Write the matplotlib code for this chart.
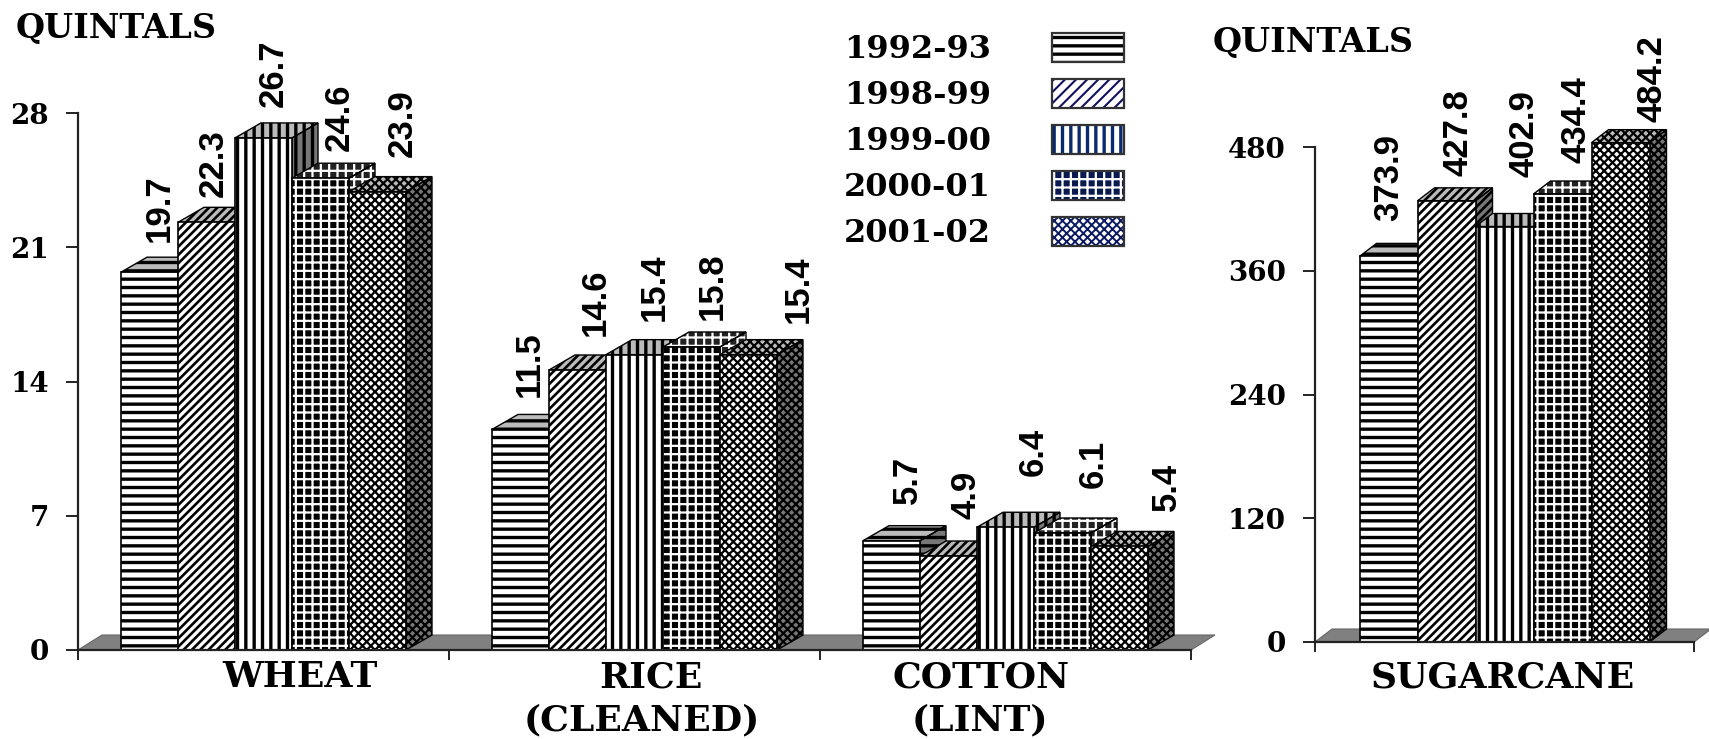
import matplotlib
matplotlib.use("Agg")
import matplotlib.pyplot as plt
from matplotlib.patches import Polygon, Rectangle

W, H = 1709, 739

years = ["1992-93", "1998-99", "1999-00", "2000-01", "2001-02"]
wheat = [19.7, 22.3, 26.7, 24.6, 23.9]
rice = [11.5, 14.6, 15.4, 15.8, 15.4]
cotton = [5.7, 4.9, 6.4, 6.1, 5.4]
sugarcane = [373.9, 427.8, 402.9, 434.4, 484.2]
left_ticks = [0, 7, 14, 21, 28]
right_ticks = [0, 120, 240, 360, 480]

# offset of each value label from the front top corner of its bar, pixels
left_label_dx = [[10, 7, 10, 19, 25], [9, 18, 20, 21, 50], [16, 18, 28, 31, 47]]
left_label_dy = [[30, 25, 31, 27, 35], [32, 34, 34, 27, 32], [37, 37, 51, 45, 35]]
right_label_dx = [0, 12, 20, 13, 32]
right_label_dy = [35, 25, 50, 31, 21]

# hatch, face colour, hatch colour, hatch width
bar_styles = [
    ("--", "white", "black", 2.4),
    ("////", "white", "black", 1.9),
    ("||", "white", "black", 2.4),
    ("++", "black", "white", 1.6),
    ("xxxx", "white", "black", 1.6),
]
key_styles = [
    ("--", "white", "black", 2.4),
    ("///", "white", "#101060", 1.5),
    ("||", "white", "#0a2a70", 2.4),
    ("++", "#0a1a50", "white", 1.6),
    ("xxxx", "white", "#0a1a60", 1.4),
]

SERIF = "DejaVu Serif"
SANS = "Liberation Sans"


def px_axes(fig, x0, x1, y_top, y_bottom):
    return fig.add_axes([x0 / W, 1 - y_bottom / H, (x1 - x0) / W, (y_bottom - y_top) / H])


def draw_bars(ax, center, values, bar_w, dx, dy, label_dx, label_dy):
    n = len(values)
    for i, v in enumerate(values):
        x0 = center + (i - n / 2) * bar_w
        x1 = x0 + bar_w
        hatch, face, hcol, hlw = bar_styles[i]
        side_face = "#222222" if face == "black" else "#777777"
        top_face = "#222222" if face == "black" else "#bbbbbb"
        side = Polygon([(x1, 0), (x1 + dx, dy), (x1 + dx, v + dy), (x1, v)], clip_on=False,
                       facecolor=side_face, edgecolor=hcol, hatch=hatch, lw=0, zorder=3 + i)
        top = Polygon([(x0, v), (x0 + dx, v + dy), (x1 + dx, v + dy), (x1, v)], clip_on=False,
                      facecolor=top_face, edgecolor=hcol, hatch=hatch, lw=0, zorder=3 + i)
        side.set_hatch_linewidth(hlw)
        top.set_hatch_linewidth(hlw)
        ax.add_patch(side)
        ax.add_patch(top)
        for p in (side, top):
            ax.add_patch(Polygon(p.get_xy(), fill=False, edgecolor="black", lw=1.0, zorder=3 + i,
                                 clip_on=False))
        front = ax.bar(x0, v, bar_w, align="edge", color=face, edgecolor=hcol, hatch=hatch, lw=0,
                       zorder=3 + i, clip_on=False)
        front[0].set_hatch_linewidth(hlw)
        ax.bar(x0, v, bar_w, align="edge", fill=False, edgecolor="black", lw=1.2, zorder=3 + i,
               clip_on=False)
        ax.annotate(f"{v:.1f}", (x0 + bar_w / 2, v), xytext=(label_dx[i] * 0.72, label_dy[i] * 0.72),
                    textcoords="offset points", rotation=90, ha="center", va="bottom",
                    family=SANS, fontweight="bold", fontsize=25, color="black", zorder=20,
                    annotation_clip=False)


def style_axis(ax, ticks, xticks):
    ax.set_yticks(ticks)
    ax.set_xticks(xticks)
    ax.set_xticklabels([])
    ax.spines["top"].set_visible(False)
    ax.spines["right"].set_visible(False)
    for s in ("left", "bottom"):
        ax.spines[s].set_linewidth(1.6)
        ax.spines[s].set_color("#222222")
        ax.spines[s].set_zorder(30)
    ax.tick_params(axis="y", length=9, width=1.4, pad=12, color="#222222")
    ax.tick_params(axis="x", length=7, width=1.4, color="#222222")
    for t in ax.get_yticklabels():
        t.set_family(SERIF)
        t.set_fontweight("bold")
        t.set_fontsize(20)


def floor(ax, x0, x1, dx, dy):
    ax.add_patch(Polygon([(x0, 0), (x0 + dx, dy), (x1 + dx, dy), (x1, 0)], facecolor="#808080",
                         edgecolor="#666666", lw=0.8, zorder=1, clip_on=False))


def main():
    fig = plt.figure(figsize=(W / 100, H / 100), dpi=100, facecolor="white")

    # left chart
    ax = px_axes(fig, 78, 1191, 113, 650)
    ax.set_xlim(0, 3)
    ax.set_ylim(0, 28)
    style_axis(ax, left_ticks, [0, 1, 2, 3])
    dy = 15 / (537 / 28)
    floor(ax, 0, 3, 24 / 371, dy)
    for c, vals in enumerate([wheat, rice, cotton]):
        draw_bars(ax, c + 0.5, vals, 57 / 371, 26 / 371, dy, left_label_dx[c], left_label_dy[c])

    # right chart
    ax2 = px_axes(fig, 1315, 1694, 147, 642)
    ax2.set_xlim(0, 1)
    ax2.set_ylim(0, 480)
    style_axis(ax2, right_ticks, [0, 1])
    dy2 = 13 / (495 / 480)
    floor(ax2, 0, 1, 17 / 379, dy2)
    draw_bars(ax2, 0.5, sugarcane, 58 / 379, 17 / 379, dy2, right_label_dx, right_label_dy)

    def label(x, y, s, size=26, ha="center"):
        fig.text(x / W, 1 - y / H, s, ha=ha, va="center", family=SERIF, fontweight="bold",
                 fontsize=size, color="black")

    label(16, 28, "QUINTALS", 24, "left")
    label(1213, 43, "QUINTALS", 24, "left")
    label(300, 677, "WHEAT")
    label(651, 677, "RICE")
    label(642, 720, "(CLEANED)")
    label(981, 677, "COTTON")
    label(980, 720, "(LINT)")
    label(1503, 677, "SUGARCANE")

    # legend
    key_top = [33, 79, 125, 171, 217]
    for yr, top, (hatch, face, hcol, hlw) in zip(years, key_top, key_styles):
        label(991, top + 16, yr, 23, "right")
        key = Rectangle((1052 / W, 1 - (top + 29) / H), 72 / W, 29 / H, transform=fig.transFigure,
                        facecolor=face, edgecolor=hcol, hatch=hatch, lw=0)
        key.set_hatch_linewidth(hlw)
        fig.add_artist(key)
        fig.add_artist(Rectangle((1052 / W, 1 - (top + 29) / H), 72 / W, 29 / H, transform=fig.transFigure,
                                 fill=False, edgecolor="#333333", lw=1.6))

    fig.savefig("out.png", dpi=100)
    plt.close(fig)


if __name__ == "__main__":
    main()
